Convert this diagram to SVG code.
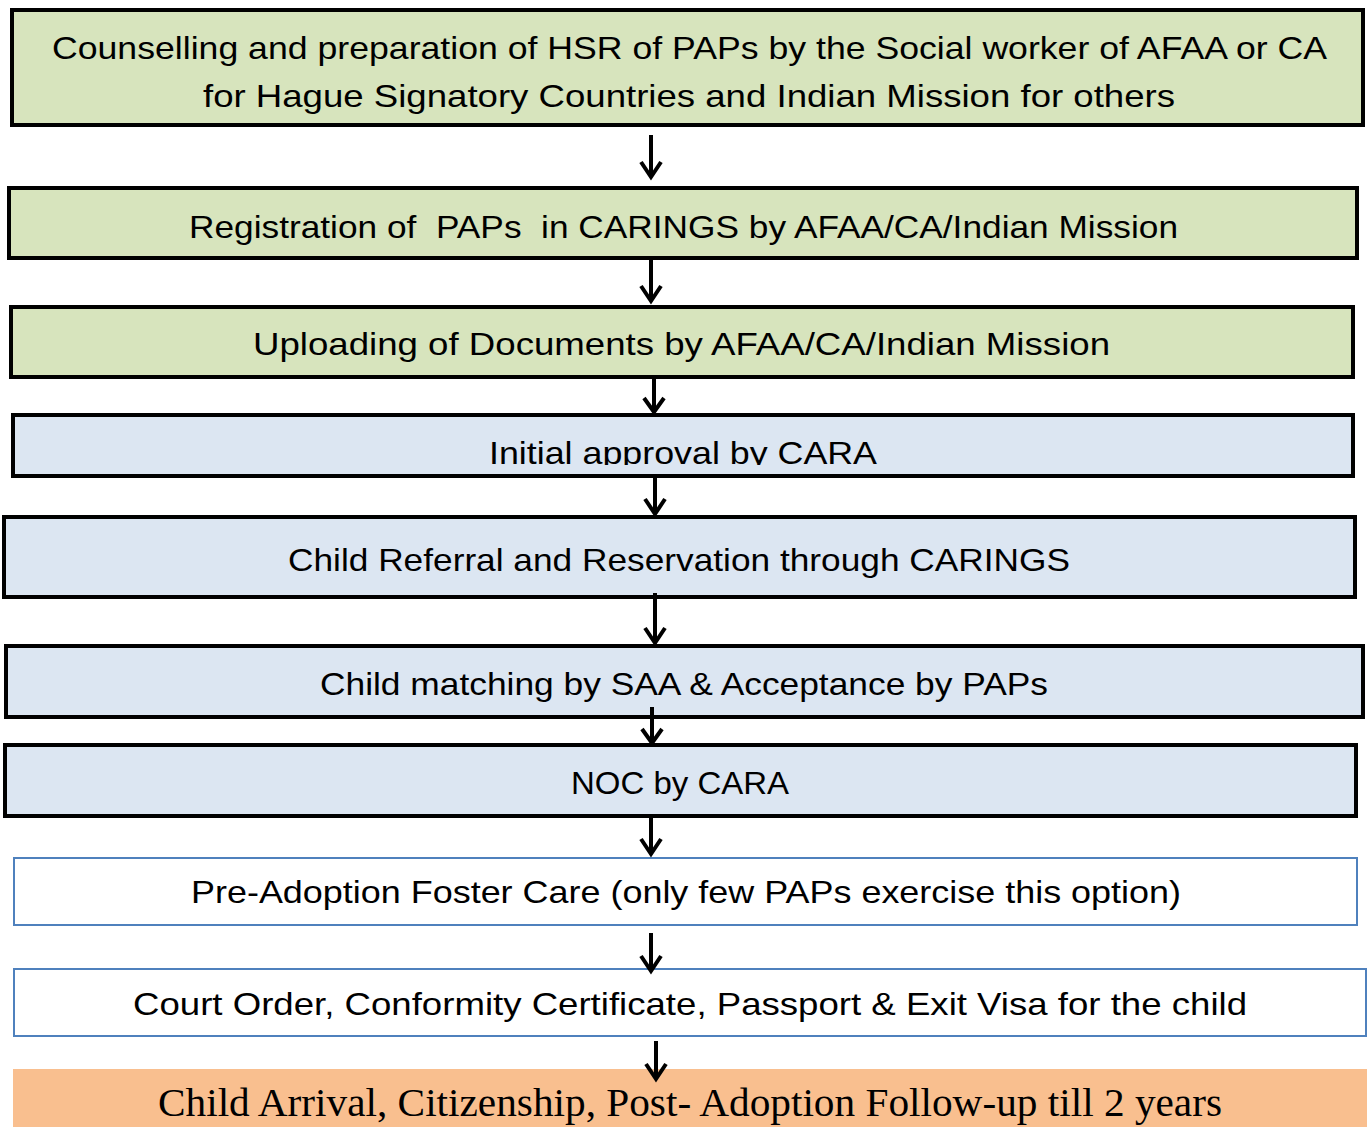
<svg xmlns="http://www.w3.org/2000/svg" width="1367" height="1127" viewBox="0 0 1367 1127">
<style>
.bx{stroke:#000;stroke-width:4}
.g{fill:#D7E4BD}
.b{fill:#DCE6F2}
.w{fill:#FFFFFF;stroke:#4F81BD;stroke-width:2}
.o{fill:#F9BF8F}
.t{font-family:"Liberation Sans",Arial,sans-serif;font-size:32px;fill:#000;white-space:pre}
.s{font-family:"Liberation Serif","Times New Roman",serif;font-size:40px;fill:#000}
.a{fill:none;stroke:#000;stroke-width:4;stroke-linecap:butt;stroke-linejoin:miter}
</style>
<defs>
<clipPath id="c4"><rect x="13" y="415" width="1340" height="50"/></clipPath>
</defs>
<rect width="1367" height="1127" fill="#FFFFFF"/>
<g id="n1">
<rect class="bx g" x="12" y="10" width="1351" height="115"/>
<text class="t" x="52" y="59" textLength="1275" lengthAdjust="spacingAndGlyphs">Counselling and preparation of HSR of PAPs by the Social worker of AFAA or CA</text>
<text class="t" x="203" y="107" textLength="972" lengthAdjust="spacingAndGlyphs">for Hague Signatory Countries and Indian Mission for others</text>
</g>
<g id="n2">
<rect class="bx g" x="9" y="188" width="1348" height="70"/>
<text class="t" x="189" y="238" textLength="989" lengthAdjust="spacingAndGlyphs">Registration of  PAPs  in CARINGS by AFAA/CA/Indian Mission</text>
</g>
<g id="n3">
<rect class="bx g" x="11" y="307" width="1342" height="70"/>
<text class="t" x="253" y="355" textLength="857" lengthAdjust="spacingAndGlyphs">Uploading of Documents by AFAA/CA/Indian Mission</text>
</g>
<g id="n4">
<rect class="bx b" x="13" y="415" width="1340" height="61"/>
<text class="t" x="489" y="464" textLength="388" lengthAdjust="spacingAndGlyphs" clip-path="url(#c4)">Initial approval by CARA</text>
</g>
<g id="n5">
<rect class="bx b" x="4" y="517" width="1351" height="80"/>
<text class="t" x="288" y="571" textLength="782" lengthAdjust="spacingAndGlyphs">Child Referral and Reservation through CARINGS</text>
</g>
<g id="n6">
<rect class="bx b" x="6" y="646" width="1357" height="71"/>
<text class="t" x="320" y="695" textLength="728" lengthAdjust="spacingAndGlyphs">Child matching by SAA &amp; Acceptance by PAPs</text>
</g>
<g id="n7">
<rect class="bx b" x="5" y="745" width="1351" height="71"/>
<text class="t" x="571" y="794" textLength="218" lengthAdjust="spacingAndGlyphs">NOC by CARA</text>
</g>
<g id="n8">
<rect class="w" x="14" y="858" width="1343" height="67"/>
<text class="t" x="191" y="903" textLength="990" lengthAdjust="spacingAndGlyphs">Pre-Adoption Foster Care (only few PAPs exercise this option)</text>
</g>
<g id="n9">
<rect class="w" x="14" y="969" width="1352" height="67"/>
<text class="t" x="133" y="1015" textLength="1114" lengthAdjust="spacingAndGlyphs">Court Order, Conformity Certificate, Passport &amp; Exit Visa for the child</text>
</g>
<g id="n10">
<rect class="o" x="13" y="1069" width="1354" height="58"/>
<text class="s" x="158" y="1116" textLength="1064" lengthAdjust="spacingAndGlyphs">Child Arrival, Citizenship, Post- Adoption Follow-up till 2 years</text>
</g>
<g id="connectors">
<path class="a" d="M651 135V177M641 162L651 177L661 162"/>
<path class="a" d="M651 260V301M641 286L651 301L661 286"/>
<path class="a" d="M654 379V412M644 398L654 412L664 398"/>
<path class="a" d="M655 477V514M645 499L655 514L665 499"/>
<path class="a" d="M655 593V643M645 628L655 643L665 628"/>
<path class="a" d="M652 707V743M642 729L652 743L662 729"/>
<path class="a" d="M651 818V854M641 839L651 854L661 839"/>
<path class="a" d="M651 933V971M641 956L651 971L661 956"/>
<path class="a" d="M656 1041V1079M646 1064L656 1079L666 1064"/>
</g>
</svg>
